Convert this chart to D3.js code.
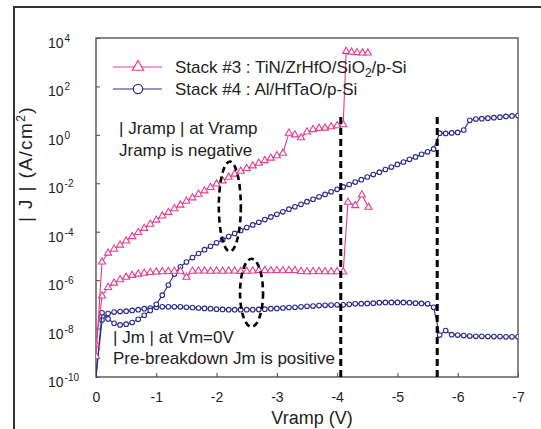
<!DOCTYPE html>
<html>
<head>
<meta charset="utf-8">
<script src="https://cdn.jsdelivr.net/npm/d3@7"></script>
<style>
  body { margin: 0; background: #fff; }
  svg { display: block; font-family: Arial, "Liberation Sans", sans-serif; }
</style>
</head>
<body>
<svg id="chart" width="541" height="429"></svg>
<script>
// ---- data: |J| (A/cm^2) stored as log10 values, against ramp voltage (V) ----
const stack3RampV = [0, -0.1, -0.2, -0.3, -0.4, -0.5, -0.6, -0.7, -0.8, -0.9, -1.0, -1.1, -1.2, -1.3, -1.4, -1.5,
  -1.6, -1.7, -1.8, -1.9, -2.0, -2.1, -2.2, -2.3, -2.4, -2.5, -2.6, -2.7, -2.8, -2.9, -3.0, -3.1,
  -3.2, -3.3, -3.4, -3.5, -3.6, -3.7, -3.8, -3.9, -4.0, -4.1, -4.15, -4.24, -4.33, -4.42, -4.51];
const stack3RampLogJ = [-9.15, -5.25, -4.88, -4.72, -4.55, -4.38, -4.2, -4.03, -3.86, -3.69, -3.52, -3.35, -3.2, -3.05, -2.9, -2.74,
  -2.6, -2.45, -2.31, -2.17, -2.03, -1.9, -1.75, -1.62, -1.5, -1.39, -1.28, -1.17, -1.06, -0.96, -0.86, -0.76,
  0.07, 0.0, -0.12, 0.12, 0.22, 0.27, 0.28, 0.34, 0.38, 0.42, 3.45, 3.42, 3.4, 3.38, 3.38];

const stack3MV = [0, -0.1, -0.2, -0.3, -0.4, -0.5, -0.6, -0.7, -0.8, -0.9, -1.0, -1.1, -1.2, -1.3, -1.4, -1.5,
  -1.6, -1.7, -1.8, -1.9, -2.0, -2.1, -2.2, -2.3, -2.4, -2.5, -2.6, -2.7, -2.8, -2.9, -3.0, -3.1,
  -3.2, -3.3, -3.4, -3.5, -3.6, -3.7, -3.8, -3.9, -4.0, -4.1, -4.18, -4.3, -4.41, -4.52];
const stack3MLogJ = [-8.65, -6.65, -6.3, -6.12, -5.98, -5.88, -5.8, -5.75, -5.71, -5.68, -5.66, -5.65, -5.64, -5.63, -5.63, -5.88,
  -5.63, -5.62, -5.62, -5.63, -5.62, -5.63, -5.62, -5.62, -5.64, -5.63, -5.62, -5.6, -5.6, -5.61, -5.6, -5.61,
  -5.6, -5.6, -5.64, -5.65, -5.65, -5.64, -5.65, -5.65, -5.65, -5.66, -2.78, -2.92, -2.48, -2.99];

const stack4V = [0, -0.1, -0.2, -0.3, -0.4, -0.5, -0.6, -0.7, -0.8, -0.9, -1.0, -1.1, -1.2, -1.3, -1.4, -1.5,
  -1.6, -1.7, -1.8, -1.9, -2.0, -2.1, -2.2, -2.3, -2.4, -2.5, -2.6, -2.7, -2.8, -2.9, -3.0, -3.1,
  -3.2, -3.3, -3.4, -3.5, -3.6, -3.7, -3.8, -3.9, -4.0, -4.1, -4.2, -4.3, -4.4, -4.5, -4.6, -4.7,
  -4.8, -4.9, -5.0, -5.1, -5.2, -5.3, -5.4, -5.5, -5.6, -5.7, -5.8, -5.9, -6.0, -6.1, -6.2, -6.3,
  -6.4, -6.5, -6.6, -6.7, -6.8, -6.9, -7.0];
const stack4RampLogJ = [-10, -7.35, -7.6, -7.78, -7.85, -7.82, -7.75, -7.62, -7.45, -7.25, -7.0, -6.62, -6.2, -5.75, -5.45, -5.25,
  -5.07, -4.9, -4.74, -4.6, -4.46, -4.33, -4.2, -4.07, -3.95, -3.83, -3.72, -3.61, -3.5, -3.39, -3.28, -3.18,
  -3.07, -2.97, -2.87, -2.76, -2.66, -2.56, -2.46, -2.35, -2.25, -2.15, -2.05, -1.95, -1.85, -1.74, -1.64, -1.54,
  -1.43, -1.33, -1.22, -1.12, -1.01, -0.91, -0.8, -0.7, -0.58, 0.07, 0.06, 0.08, 0.1, 0.2, 0.6, 0.65,
  0.67, 0.69, 0.71, 0.73, 0.76, 0.78, 0.8];
const stack4MLogJ = [-10, -7.65, -7.38, -7.32, -7.3, -7.28, -7.25, -7.22, -7.18, -7.15, -7.12, -7.1, -7.1, -7.1, -7.1, -7.12,
  -7.13, -7.15, -7.17, -7.18, -7.2, -7.21, -7.22, -7.22, -7.22, -7.22, -7.22, -7.21, -7.2, -7.18, -7.17, -7.15,
  -7.13, -7.12, -7.1, -7.08, -7.07, -7.05, -7.04, -7.03, -7.02, -7.02, -7.0, -6.98, -6.97, -6.96, -6.95, -6.93,
  -6.92, -6.92, -6.92, -6.92, -6.93, -6.95, -6.96, -6.98, -7.12, -8.27, -8.08, -8.25, -8.27, -8.29, -8.31, -8.32,
  -8.32, -8.33, -8.33, -8.33, -8.34, -8.34, -8.34];

// axis ticks
const xTickValues = [0, -1, -2, -3, -4, -5, -6, -7];
const xTickLabels = ["0", "-1", "-2", "-3", "-4", "-5", "-6", "-7"];
const yTickValues = [1e4, 1e2, 1, 1e-2, 1e-4, 1e-6, 1e-8, 1e-10];
const yTickExponents = ["4", "2", "0", "-2", "-4", "-6", "-8", "-10"];

// breakdown voltages marked with dashed lines
const breakdownV = [-4.06, -5.66];
const breakdownTopJ = 5.5;

const legendLabels = ["Stack #3 : TiN/ZrHfO/SiO", "Stack #4 : Al/HfTaO/p-Si"];

// ---- layout ----
const PINK = "#e63c8c";
const BLUE = "#2b2b8c";
const svg = d3.select("#chart");

const x = d3.scaleLinear().domain([0, -7]).range([96, 518]);
const y = d3.scaleLog().domain([1e-10, 1e4]).range([377, 38]);

// outer figure frame
svg.append("rect")
  .attr("x", 14).attr("y", 7).attr("width", 600).attr("height", 500)
  .attr("fill", "none").attr("stroke", "#333").attr("stroke-width", 2);

svg.append("defs").append("clipPath").attr("id", "plotClip")
  .append("rect")
  .attr("x", x(0)).attr("y", y(1e4))
  .attr("width", x(-7) - x(0)).attr("height", y(1e-10) - y(1e4));

// axes
const xAxis = d3.axisBottom(x).tickValues(xTickValues).tickSize(-4).tickPadding(15)
  .tickFormat((d, i) => xTickLabels[i]);
const gx = svg.append("g").attr("transform", `translate(0,${y(1e-10)})`).call(xAxis);
gx.select(".domain").remove();
gx.selectAll(".tick line").attr("stroke", "#444");
gx.selectAll(".tick text").attr("font-size", 14).attr("fill", "#222")
  .attr("font-family", "Arial, 'Liberation Sans', sans-serif");

const yAxis = d3.axisLeft(y).tickValues(yTickValues).tickSize(-4).tickFormat("");
const gy = svg.append("g").attr("transform", `translate(${x(0)},0)`).call(yAxis);
gy.select(".domain").remove();
gy.selectAll(".tick line").attr("stroke", "#444");

const yLabels = svg.append("g").attr("fill", "#222");
yTickValues.forEach((v, i) => {
  const t = yLabels.append("text").attr("x", 48).attr("y", y(v) + 10).attr("font-size", 14);
  t.append("tspan").text("10");
  t.append("tspan").attr("dy", -6).attr("font-size", 10).attr("dx", 1).text(yTickExponents[i]);
});

// plot frame
svg.append("rect")
  .attr("x", x(0)).attr("y", y(1e4))
  .attr("width", x(-7) - x(0)).attr("height", y(1e-10) - y(1e4))
  .attr("fill", "none").attr("stroke", "#555").attr("stroke-width", 1.4);

// axis titles
svg.append("text").attr("x", 312).attr("y", 424).attr("text-anchor", "middle")
  .attr("font-size", 18).attr("fill", "#222").text("Vramp (V)");

const yt = svg.append("text").attr("transform", "translate(32,164) rotate(-90)")
  .attr("text-anchor", "middle").attr("font-size", 19).attr("letter-spacing", 1.4)
  .attr("fill", "#222");
yt.append("tspan").text("| J | (A/cm");
yt.append("tspan").attr("dy", -7).attr("font-size", 12).text("2");
yt.append("tspan").attr("dy", 7).text(")");

// ---- series ----
const toPoints = (vs, logs) => vs.map((v, i) => ({ v: v, j: Math.pow(10, logs[i]) }));
const series = [
  { pts: toPoints(stack4V, stack4MLogJ), color: BLUE, marker: "circle" },
  { pts: toPoints(stack4V, stack4RampLogJ), color: BLUE, marker: "circle" },
  { pts: toPoints(stack3MV, stack3MLogJ), color: PINK, marker: "triangle" },
  { pts: toPoints(stack3RampV, stack3RampLogJ), color: PINK, marker: "triangle" }
];

const line = d3.line().x(d => x(d.v)).y(d => y(d.j));
const plot = svg.append("g").attr("clip-path", "url(#plotClip)");
const triSmall = d3.symbol().type(d3.symbolTriangle).size(22);

series.forEach(s => {
  plot.append("path").datum(s.pts).attr("d", line)
    .attr("fill", "none").attr("stroke", s.color).attr("stroke-width", 1.1);
  const shown = s.pts.filter(d => d.j > 1e-10);
  if (s.marker === "circle") {
    plot.selectAll(null).data(shown).enter().append("circle")
      .attr("cx", d => x(d.v)).attr("cy", d => y(d.j)).attr("r", 2.3)
      .attr("fill", "#fff").attr("stroke", s.color).attr("stroke-width", 1.1);
  } else {
    plot.selectAll(null).data(shown).enter().append("path")
      .attr("d", triSmall)
      .attr("transform", d => `translate(${x(d.v)},${y(d.j)})`)
      .attr("fill", "#fff").attr("stroke", s.color).attr("stroke-width", 1.1);
  }
});

// breakdown markers
svg.selectAll(null).data(breakdownV).enter().append("line")
  .attr("x1", d => x(d)).attr("x2", d => x(d))
  .attr("y1", y(breakdownTopJ)).attr("y2", y(1e-10))
  .attr("stroke", "#000").attr("stroke-width", 3).attr("stroke-dasharray", "7,4");

// dashed ellipses grouping the two current types
const ellipses = [
  { v: -2.22, j: 1.1e-3, rx: 11, ry: 45 },
  { v: -2.58, j: 3.0e-7, rx: 11.5, ry: 34 }
];
svg.selectAll(null).data(ellipses).enter().append("ellipse")
  .attr("cx", d => x(d.v)).attr("cy", d => y(d.j))
  .attr("rx", d => d.rx).attr("ry", d => d.ry)
  .attr("fill", "none").attr("stroke", "#000").attr("stroke-width", 2.6)
  .attr("stroke-dasharray", "6,4");

// legend
const leg = svg.append("g");
const legRows = [
  { y: 67, color: PINK, marker: "triangle" },
  { y: 89, color: BLUE, marker: "circle" }
];
legRows.forEach((r, i) => {
  leg.append("line").attr("x1", 113).attr("x2", 162).attr("y1", r.y).attr("y2", r.y)
    .attr("stroke", r.color).attr("stroke-width", 1.2);
  if (r.marker === "triangle") {
    leg.append("path").attr("d", d3.symbol().type(d3.symbolTriangle).size(55))
      .attr("transform", `translate(138,${r.y})`)
      .attr("fill", "#fff").attr("stroke", r.color).attr("stroke-width", 1.2);
  } else {
    leg.append("circle").attr("cx", 138).attr("cy", r.y).attr("r", 4.7)
      .attr("fill", "#fff").attr("stroke", r.color).attr("stroke-width", 1.2);
  }
  const t = leg.append("text").attr("x", 175).attr("y", r.y + 6).attr("font-size", 17).attr("fill", "#222");
  t.append("tspan").text(legendLabels[i]);
  if (i === 0) {
    t.append("tspan").attr("dy", 4).attr("font-size", 12).text("2");
    t.append("tspan").attr("dy", -4).text("/p-Si");
  }
});

// annotations
const notes = [
  { x: 119, y: 134, t: "| Jramp | at Vramp" },
  { x: 119, y: 156, t: "Jramp is negative" },
  { x: 113, y: 343, t: "| Jm | at Vm=0V" },
  { x: 113, y: 364, t: "Pre-breakdown Jm is positive" }
];
svg.selectAll(null).data(notes).enter().append("text")
  .attr("x", d => d.x).attr("y", d => d.y).attr("font-size", 17).attr("fill", "#222")
  .text(d => d.t);
</script>
</body>
</html>
